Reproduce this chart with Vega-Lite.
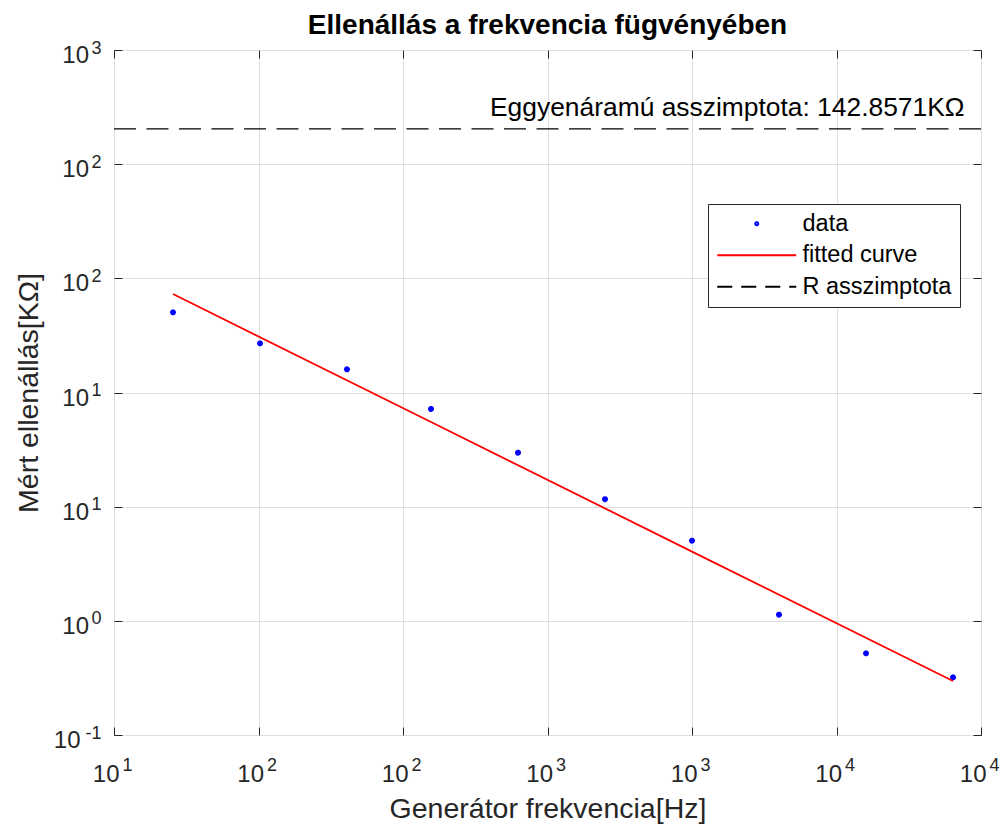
{
  "$schema": "https://vega.github.io/schema/vega-lite/v6.json",
  "width": 867,
  "height": 685,
  "autosize": {"type": "none"},
  "padding": {"left": 114, "top": 50, "right": 23, "bottom": 89},
  "background": "white",
  "config": {
    "view": {"stroke": "#262626", "strokeWidth": 1},
    "font": "Liberation Sans",
    "axis": {
      "domain": false,
      "labelColor": "#262626",
      "titleColor": "#262626",
      "labelFont": "Liberation Sans",
      "titleFont": "Liberation Sans",
      "grid": false,
      "ticks": false,
      "labelFlush": false,
      "labelOverlap": false,
      "labelBound": false
    },
    "legend": {
      "title": null,
      "orient": "none",
      "legendX": 594,
      "legendY": 154,
      "padding": 8,
      "symbolOffset": 29,
      "labelOffset": 34,
      "rowPadding": 6.5,
      "symbolSize": 100,
      "symbolStrokeWidth": 2,
      "symbolFillColor": "transparent",
      "symbolOpacity": 1,
      "labelFontSize": 23.5,
      "labelFont": "Liberation Sans",
      "labelColor": "black",
      "strokeColor": "#262626",
      "fillColor": "white",
      "cornerRadius": 0
    }
  },
  "title": {
    "text": "Ellenállás a frekvencia fügvényében",
    "fontSize": 28,
    "fontWeight": "bold",
    "font": "Liberation Sans",
    "color": "black",
    "baseline": "alphabetic",
    "offset": 15,
    "dy": 38,
    "anchor": "middle",
    "frame": "group"
  },
  "datasets": {
    "meres": [
      {"f": 16, "R": 22.45, "series": "data"},
      {"f": 32, "R": 16.42, "series": "data"},
      {"f": 64, "R": 12.64, "series": "data"},
      {"f": 125, "R": 8.47, "series": "data"},
      {"f": 250, "R": 5.45, "series": "data"},
      {"f": 500, "R": 3.41, "series": "data"},
      {"f": 1000, "R": 2.243, "series": "data"},
      {"f": 2000, "R": 1.064, "series": "data"},
      {"f": 4000, "R": 0.7206, "series": "data"},
      {"f": 8000, "R": 0.5657, "series": "data"}
    ],
    "illesztes": [
      {"f": 16, "R": 27.0},
      {"f": 125, "R": 7.43},
      {"f": 1000, "R": 2.01},
      {"f": 8000, "R": 0.545}
    ],
    "aszimptota": [{"R": 142.8571}],
    "felirat": [{"f": 200, "R": 142.8571, "text": "Eggyenáramú asszimptota: 142.8571KΩ"}]
  },
  "layer": [
    {
      "data": {"name": "meres"},
      "mark": {"type": "point", "filled": false, "size": 100, "strokeWidth": 3, "opacity": 1},
      "encoding": {
        "x": {
          "field": "f", "type": "quantitative",
          "scale": {"type": "log", "domain": [10, 10000], "nice": false},
          "axis": {
            "orient": "bottom",
            "values": [10, 31.6228, 100, 316.228, 1000, 3162.28, 10000],
            "labelExpr": "'10'",
            "labelAlign": "right", "labelOffset": 5, "labelBaseline": "alphabetic",
            "labelPadding": 46, "labelFontSize": 24,
            "grid": true, "gridColor": "#dfdfdf", "gridWidth": 1,
            "ticks": false, "domain": false,
            "title": "Generátor frekvencia[Hz]",
            "titleFontSize": 28.5, "titleFontWeight": "normal",
            "titleY": 82, "titleBaseline": "alphabetic"
          }
        },
        "y": {
          "field": "R", "type": "quantitative",
          "scale": {"type": "log", "domain": [0.316228, 316.228], "nice": false},
          "axis": {
            "orient": "left",
            "values": [0.316228, 1, 3.16228, 10, 31.6228, 100, 316.228],
            "labelExpr": "'10'",
            "labelAlign": "right", "labelBaseline": "alphabetic", "labelOffset": 12.5,
            "labelPadding": {"condition": {"test": "datum.value < 0.5", "value": 34}, "value": 25.5},
            "labelFontSize": 24,
            "grid": true, "gridColor": "#dfdfdf", "gridWidth": 1,
            "ticks": false, "domain": false,
            "title": "Mért ellenállás[KΩ]",
            "titleFontSize": 28.5, "titleFontWeight": "normal",
            "titleX": -77, "titleBaseline": "alphabetic", "titleAngle": 270
          }
        },
        "color": {
          "field": "series", "type": "nominal",
          "scale": {"domain": ["data", "fitted curve", "R asszimptota"], "range": ["#0000ff", "#ff0000", "#000000"]}
        },
        "shape": {
          "field": "series", "type": "nominal",
          "scale": {
            "domain": ["data", "fitted curve", "R asszimptota"],
            "range": ["M-0.3,0A0.3,0.3 0 1,0 0.3,0A0.3,0.3 0 1,0 -0.3,0Z", "M-7.9,0H7.9", "M-7.9,0H7.9"]
          }
        },
        "strokeDash": {
          "field": "series", "type": "nominal",
          "scale": {
            "domain": ["data", "fitted curve", "R asszimptota"],
            "range": [[1, 0], [1, 0], [15, 9]]
          }
        }
      }
    },
    {
      "data": {"name": "illesztes"},
      "mark": {"type": "line", "color": "#ff0000", "strokeWidth": 1.8},
      "encoding": {
        "x": {
          "field": "f", "type": "quantitative",
          "axis": {
            "orient": "bottom",
            "values": [10, 31.6228, 100, 316.228, 1000, 3162.28, 10000],
            "labelExpr": "datum.value < 20 ? '1' : datum.value < 200 ? '2' : datum.value < 2000 ? '3' : '4'",
            "labelAlign": "left", "labelOffset": 8, "labelBaseline": "alphabetic",
            "labelPadding": 43, "labelFontSize": 18,
            "grid": false, "domain": false,
            "ticks": true, "tickSize": -8, "tickColor": "#262626", "tickWidth": 1,
            "title": null
          }
        },
        "y": {
          "field": "R", "type": "quantitative",
          "axis": {
            "orient": "left",
            "values": [0.316228, 1, 3.16228, 10, 31.6228, 100, 316.228],
            "labelExpr": "datum.value < 0.5 ? '-1' : datum.value < 2 ? '0' : datum.value < 20 ? '1' : datum.value < 200 ? '2' : '3'",
            "labelAlign": "right", "labelBaseline": "alphabetic", "labelOffset": 3,
            "labelPadding": 21, "labelFontSize": 18,
            "grid": false, "domain": false,
            "ticks": true, "tickSize": -8, "tickColor": "#262626", "tickWidth": 1,
            "title": null
          }
        }
      }
    },
    {
      "data": {"name": "aszimptota"},
      "mark": {"type": "rule", "color": "#000000", "strokeWidth": 1.2, "strokeDash": [22, 10.5]},
      "encoding": {
        "y": {"field": "R", "type": "quantitative", "axis": null}
      }
    },
    {
      "data": {"name": "felirat"},
      "mark": {"type": "text", "align": "left", "baseline": "alphabetic", "dy": -13, "fontSize": 26.4, "font": "Liberation Sans", "color": "#000000"},
      "encoding": {
        "x": {
          "field": "f", "type": "quantitative",
          "axis": {
            "orient": "top",
            "values": [10, 31.6228, 100, 316.228, 1000, 3162.28, 10000],
            "labels": false, "grid": false, "domain": false,
            "ticks": true, "tickSize": -8, "tickColor": "#262626", "tickWidth": 1,
            "title": null
          }
        },
        "y": {
          "field": "R", "type": "quantitative",
          "axis": {
            "orient": "right",
            "values": [0.316228, 1, 3.16228, 10, 31.6228, 100, 316.228],
            "labels": false, "grid": false, "domain": false,
            "ticks": true, "tickSize": -8, "tickColor": "#262626", "tickWidth": 1,
            "title": null
          }
        },
        "text": {"field": "text", "type": "nominal"}
      }
    }
  ],
  "resolve": {"axis": {"x": "independent", "y": "independent"}}
}
